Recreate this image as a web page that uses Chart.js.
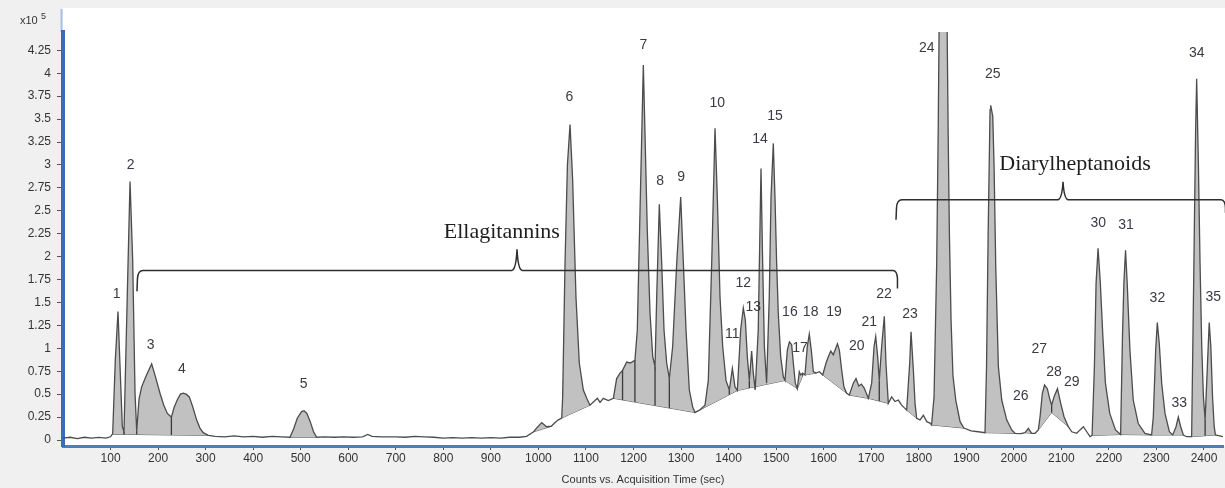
<!DOCTYPE html>
<html>
<head>
<meta charset="utf-8">
<script src="https://cdn.jsdelivr.net/npm/chart.js@4.4.1/dist/chart.umd.min.js"></script>
<style>
  html, body { margin: 0; padding: 0; background: #f0f0f0; }
  canvas { display: block; }
</style>
</head>
<body>
<canvas id="chrom" width="1225" height="488"></canvas>
<script>
// Chromatogram trace: acquisition time (s) and signal (x10^5 counts)
const traceTime = [
  0, 15, 30, 45, 60, 75, 90, 100,
  104.5, 110, 115.7, 120, 124.8, 128.3, 135.3, 141, 146.6, 151.5, 155,
  160, 165.5, 175, 186.5, 195, 204, 212, 219.5, 228, 234, 240.5, 247, 253, 259, 265.7, 273, 281, 288, 295, 305.7,
  320, 340, 360, 380, 400, 420, 440, 460, 477.5,
  485, 493, 502, 507, 513, 520, 527, 533.6,
  550, 570, 590, 610, 630, 641, 650, 670, 700, 720, 740, 760, 780, 800, 820, 840, 860, 880, 900, 920, 940, 960, 975,
  990, 996, 1007, 1017, 1027, 1035, 1042, 1049,
  1051, 1056, 1061, 1066.5, 1072, 1079, 1086, 1094.5, 1101.6, 1108.5,
  1119, 1124, 1129.6, 1136.5, 1147,
  1157.6, 1164.6, 1171.6, 1177, 1185.7, 1192.7, 1203, 1208, 1213.6, 1220.7, 1224, 1229, 1234.8, 1240.5, 1245.3, 1248.8, 1254.3, 1259.3, 1264.2, 1269.8, 1275.4, 1282.4, 1290.9, 1299.3, 1304.9, 1310.5, 1317.4, 1324.5, 1329.4,
  1340, 1350.4, 1357.4, 1364.5, 1371.5, 1376.3, 1382, 1387.6, 1394.6, 1401.6, 1408, 1413.5, 1418.4,
  1425.4, 1431, 1435.2, 1439.4, 1443.7, 1448.5, 1452, 1456, 1462.4, 1468.2, 1471.7, 1475.3, 1480, 1485.6, 1489.3, 1494.1, 1497.6, 1501.1, 1504.6, 1509.6, 1515.2, 1518.7,
  1523.6, 1528, 1532.7, 1536.2, 1540.4, 1544.6, 1548.8, 1551.6, 1555.8, 1560.7, 1565.6, 1569.8, 1574, 1578.3, 1584, 1591, 1598,
  1605, 1610, 1615, 1620.3, 1629, 1633, 1638, 1642.6, 1648.5, 1654, 1662.4, 1668, 1673.8, 1679.3, 1685, 1694, 1701, 1706, 1709.5, 1713.6, 1717, 1722, 1727.6, 1731, 1736,
  1743, 1750, 1757, 1764, 1771, 1774.6, 1781, 1783.8, 1788.7, 1792.2, 1795.7, 1802.7, 1809.7, 1816.8, 1823.7, 1827, 1832.2, 1837.8, 1841, 1843, 1852, 1859.5, 1862, 1864.5, 1868, 1872, 1878, 1887, 1895, 1910, 1925,
  1939.4, 1942.6, 1946, 1950, 1951.4, 1955.7, 1958.5, 1962, 1967.5, 1974.6, 1985, 1995.6, 2002.5, 2015, 2023.6, 2030.6, 2037.6, 2044.6, 2051.5, 2055.2, 2060, 2064.6, 2070.5, 2076.1, 2079.6, 2084.5, 2091.8, 2098.6, 2105.6, 2114.7, 2121.8, 2132.3, 2139.3, 2146.3, 2153.4, 2160.3,
  2164.6, 2169.5, 2173, 2177.2, 2182, 2187, 2192.7, 2201.8, 2213.8, 2224.6, 2228.7, 2231.5, 2235, 2238.5, 2244.2, 2251.2, 2261.7, 2275.8, 2289.8, 2293.4, 2298.4, 2301.8, 2306, 2311, 2318, 2327.2, 2334.2, 2341.2, 2346, 2351, 2356.6, 2363.5,
  2374, 2378.8, 2382.4, 2384.6, 2388.2, 2391.7, 2395.3, 2398.8, 2402.4, 2405.9, 2411, 2414.4, 2418, 2421.5, 2424, 2440
];
const traceSignal = [
  0.02, 0.03, 0.015, 0.03, 0.02, 0.028, 0.02, 0.035,
  0.07, 0.87, 1.40, 0.80, 0.145, 0.09, 1.6, 2.82, 1.96, 0.51, 0.10,
  0.45, 0.58, 0.70, 0.83, 0.68, 0.51, 0.38, 0.29, 0.25, 0.36, 0.44, 0.50, 0.51, 0.50, 0.47, 0.36, 0.22, 0.13, 0.08, 0.05,
  0.04, 0.035, 0.045, 0.035, 0.04, 0.03, 0.04, 0.035, 0.03,
  0.12, 0.24, 0.31, 0.32, 0.29, 0.20, 0.09, 0.03,
  0.035, 0.03, 0.035, 0.03, 0.035, 0.06, 0.04, 0.035, 0.035, 0.03, 0.04, 0.035, 0.03, 0.02, 0.025, 0.02, 0.025, 0.02, 0.025, 0.02, 0.03, 0.03, 0.04,
  0.09, 0.13, 0.19, 0.145, 0.15, 0.19, 0.22, 0.24,
  0.47, 1.93, 3.0, 3.44, 2.84, 1.56, 0.84, 0.545, 0.455, 0.38,
  0.43, 0.455, 0.41, 0.455, 0.43,
  0.455, 0.67, 0.73, 0.76, 0.85, 0.84, 0.87, 1.2, 2.47, 4.09, 3.38, 2.29, 1.38, 0.91, 0.80, 1.56, 2.57, 1.93, 1.2, 0.84, 0.67, 1.02, 1.93, 2.65, 1.93, 1.2, 0.545, 0.36, 0.30,
  0.33, 0.38, 0.65, 1.93, 3.40, 2.65, 1.56, 1.02, 0.65, 0.545, 0.78, 0.58, 0.54,
  1.2, 1.44, 1.31, 0.91, 0.65, 0.97, 0.73, 0.55, 1.2, 2.96, 1.93, 1.02, 0.62, 1.56, 2.65, 3.235, 2.65, 1.93, 1.38, 0.91, 0.69, 0.65,
  0.98, 1.07, 1.04, 0.84, 0.62, 0.56, 0.745, 0.71, 0.73, 0.71, 1.02, 1.156, 0.98, 0.745, 0.73, 0.745, 0.71,
  0.84, 0.91, 0.97, 0.93, 1.05, 0.98, 0.76, 0.58, 0.51, 0.49, 0.62, 0.67, 0.59, 0.61, 0.57, 0.455, 0.62, 1.02, 1.13, 0.91, 0.65, 1.02, 1.35, 0.84, 0.40,
  0.47, 0.42, 0.436, 0.38, 0.345, 0.327, 0.84, 1.18, 0.76, 0.40, 0.237, 0.22, 0.27, 0.20, 0.185, 0.164, 0.47, 1.93, 3.4, 4.6, 6.0, 4.6, 3.3, 2.25, 1.3, 0.7, 0.43, 0.2, 0.13, 0.10, 0.09,
  0.08, 0.80, 2.25, 3.6, 3.65, 3.53, 2.98, 1.89, 0.80, 0.436, 0.22, 0.11, 0.073, 0.07, 0.08, 0.127, 0.073, 0.073, 0.11, 0.254, 0.51, 0.60, 0.56, 0.436, 0.38, 0.47, 0.56, 0.40, 0.254, 0.145, 0.09, 0.073, 0.11, 0.145, 0.09, 0.036,
  0.05, 0.80, 1.71, 2.09, 1.71, 1.16, 0.62, 0.29, 0.11, 0.06, 1.16, 1.71, 2.07, 1.71, 0.98, 0.436, 0.18, 0.073, 0.055, 0.254, 0.98, 1.28, 1.05, 0.62, 0.29, 0.09, 0.055, 0.145, 0.25, 0.145, 0.055, 0.036,
  0.036, 1.93, 3.38, 3.94, 3.02, 1.93, 1.02, 0.47, 0.22, 0.65, 1.28, 1.02, 0.47, 0.145, 0.055, 0.036
];

// Integration windows: start/end time, baseline level at both ends, and drop-line split times inside
const windowStart = [104.5, 155, 477.5, 990, 1049, 1157.6, 1329.4, 1418.4, 1518.7, 1544.6, 1560.7, 1598, 1654, 1694, 1774.6, 1827, 1939.4, 2023.6, 2051.5, 2079.6, 2164.6, 2224.6, 2289.8, 2334.2, 2374];
const windowEnd   = [155, 305.7, 533.6, 1027, 1108.5, 1329.4, 1418.4, 1518.7, 1544.6, 1555.8, 1584, 1648.5, 1694, 1736, 1795.7, 1895, 2002.5, 2037.6, 2079.6, 2114.7, 2224.6, 2289.8, 2334.2, 2356.6, 2424];
const baseStart   = [0.06, 0.06, 0.03, 0.09, 0.24, 0.455, 0.30, 0.54, 0.65, 0.56, 0.71, 0.71, 0.49, 0.455, 0.327, 0.164, 0.08, 0.08, 0.11, 0.30, 0.05, 0.06, 0.055, 0.055, 0.036];
const baseEnd     = [0.06, 0.05, 0.03, 0.15, 0.38, 0.30, 0.54, 0.65, 0.56, 0.70, 0.73, 0.51, 0.455, 0.40, 0.237, 0.13, 0.073, 0.073, 0.30, 0.145, 0.06, 0.055, 0.055, 0.055, 0.055];
const windowSplits = [[128.3], [228], [], [], [], [1177, 1203, 1245.3, 1275.4], [1401.6], [1443.7, 1456, 1480], [], [], [], [], [], [1717], [], [], [], [], [], [], [], [], [], [], [2402.4]];

// Peak numbers and their anchor (time, level)
const peakNames = ['1','2','3','4','5','6','7','8','9','10','11','12','13','14','15','16','17','18','19','20','21','22','23','24','25','26','27','28','29','30','31','32','33','34','35'];
const peakLabelTime  = [113, 142.4, 184.4, 250.3, 506.2, 1065, 1220.7, 1255.8, 1300, 1376.3, 1408, 1431, 1452, 1466, 1497.7, 1529, 1550.3, 1572.6, 1621.8, 1669.5, 1696, 1727, 1781.7, 1816.7, 1955.6, 2014.5, 2053.6, 2084.5, 2121.8, 2177.8, 2236, 2302, 2348, 2384.7, 2419.7];
const peakLabelLevel = [1.59, 3.0, 1.03, 0.774, 0.61, 3.74, 4.31, 2.82, 2.87, 3.67, 1.156, 1.71, 1.447, 3.28, 3.53, 1.40, 1.0, 1.39, 1.40, 1.025, 1.29, 1.59, 1.374, 4.27, 3.99, 0.48, 0.99, 0.745, 0.636, 2.37, 2.345, 1.55, 0.40, 4.217, 1.563];

// Compound classes: bracket span, centre point, level, and caption anchor
const classNames = ['Ellagitannins', 'Diarylheptanoids'];
const classFrom = [164, 1760.6];
const classTo = [1750, 2440];
const classCentre = [955, 2103.5];
const classLevel = [1.85, 2.62];
const classTextTime = [923, 2128.7];
const classTextLevel = [2.2, 2.94];

// Axis ticks
const xTicks = [100, 200, 300, 400, 500, 600, 700, 800, 900, 1000, 1100, 1200, 1300, 1400, 1500, 1600, 1700, 1800, 1900, 2000, 2100, 2200, 2300, 2400];
const yTicks = [0, 0.25, 0.5, 0.75, 1, 1.25, 1.5, 1.75, 2, 2.25, 2.5, 2.75, 3, 3.25, 3.5, 3.75, 4, 4.25];

Chart.defaults.font.family = '"Liberation Sans", Arial, sans-serif';

const trace = traceTime.map((t, i) => ({ x: t, y: traceSignal[i] }));
const signalAt = t => traceSignal[traceTime.indexOf(t)];

const datasets = [];
datasets.push({
  data: trace, borderColor: '#4c4c4c', borderWidth: 1.3,
  pointRadius: 0, fill: false, tension: 0
});

// vertical drop lines between integrated peaks
const drops = [];
windowStart.forEach((t0, k) => {
  const t1 = windowEnd[k], b0 = baseStart[k], b1 = baseEnd[k];
  [t0, ...windowSplits[k], t1].forEach(t => {
    const b = b0 + (b1 - b0) * (t - t0) / (t1 - t0);
    const s = signalAt(t);
    if (Math.abs(s - b) > 0.015) drops.push({ x: t, y: b }, { x: t, y: s }, { x: t, y: null });
  });
});
datasets.push({
  data: drops, borderColor: '#3a3a3a', borderWidth: 1.3,
  pointRadius: 0, fill: false, spanGaps: false
});

// shaded peak areas above their baselines
windowStart.forEach((t0, k) => {
  const t1 = windowEnd[k];
  const baseIndex = datasets.length + 1;
  datasets.push({
    data: trace.filter(p => p.x >= t0 && p.x <= t1),
    borderColor: 'rgba(0,0,0,0)', borderWidth: 0, pointRadius: 0,
    fill: { target: baseIndex, above: '#c1c1c1', below: '#c1c1c1' }
  });
  datasets.push({
    data: [{ x: t0, y: baseStart[k] }, { x: t1, y: baseEnd[k] }],
    borderColor: '#585858', borderWidth: 1, pointRadius: 0, fill: false
  });
});

const paper = {
  id: 'paper',
  beforeDraw(chart) {
    const { ctx, chartArea: a, width, height } = chart;
    ctx.save();
    ctx.fillStyle = '#f0f0f0';
    ctx.fillRect(0, 0, width, height);
    ctx.fillStyle = '#ffffff';
    ctx.fillRect(a.left, 8, width - a.left, a.bottom - 8);
    ctx.strokeStyle = '#a8c0e6';
    ctx.lineWidth = 2;
    ctx.beginPath();
    ctx.moveTo(a.left - 1.5, 9);
    ctx.lineTo(a.left - 1.5, a.top);
    ctx.stroke();
    ctx.fillStyle = '#333';
    ctx.textAlign = 'left';
    ctx.textBaseline = 'alphabetic';
    ctx.font = '11px "Liberation Sans", Arial, sans-serif';
    ctx.fillText('x10', 20, 24);
    ctx.font = '9px "Liberation Sans", Arial, sans-serif';
    ctx.fillText('5', 41, 19);
    ctx.restore();
  }
};

function bracket(ctx, xs, xe, xm, y, hookL, hookR, tip) {
  ctx.beginPath();
  ctx.moveTo(xs - 4, y + hookL);
  ctx.lineTo(xs - 3.5, y + 8);
  ctx.quadraticCurveTo(xs - 3, y, xs + 2, y);
  ctx.lineTo(xm - 5, y);
  ctx.quadraticCurveTo(xm - 1, y - 1, xm, y - tip);
  ctx.quadraticCurveTo(xm + 1, y - 1, xm + 5, y);
  ctx.lineTo(xe - 2, y);
  ctx.quadraticCurveTo(xe + 2, y, xe + 2.5, y + 8);
  ctx.lineTo(xe + 2.5, y + hookR);
  ctx.stroke();
}

const notes = {
  id: 'notes',
  afterDatasetsDraw(chart) {
    const { ctx } = chart;
    const xs = chart.scales.x, ys = chart.scales.y;
    ctx.save();
    ctx.strokeStyle = '#2e2e2e';
    ctx.lineWidth = 1.5;
    const hooks = [[21, 18, 21], [20, 13, 18]];
    classNames.forEach((name, i) => {
      bracket(ctx,
        xs.getPixelForValue(classFrom[i]), xs.getPixelForValue(classTo[i]),
        xs.getPixelForValue(classCentre[i]), ys.getPixelForValue(classLevel[i]),
        hooks[i][0], hooks[i][1], hooks[i][2]);
      ctx.fillStyle = '#1e1e1e';
      ctx.font = '22px "Liberation Serif", "Times New Roman", serif';
      ctx.textAlign = 'center';
      ctx.textBaseline = 'alphabetic';
      ctx.fillText(name, xs.getPixelForValue(classTextTime[i]), ys.getPixelForValue(classTextLevel[i]));
    });
    ctx.fillStyle = '#3c3944';
    ctx.font = '14px "Liberation Sans", Arial, sans-serif';
    ctx.textAlign = 'center';
    ctx.textBaseline = 'middle';
    peakNames.forEach((n, i) => {
      ctx.fillText(n, xs.getPixelForValue(peakLabelTime[i]), ys.getPixelForValue(peakLabelLevel[i]));
    });
    ctx.restore();
  }
};

new Chart(document.getElementById('chrom'), {
  type: 'line',
  data: { datasets },
  options: {
    responsive: false,
    animation: false,
    events: [],
    devicePixelRatio: 1,
    layout: { padding: { left: 0, right: 2, top: 32, bottom: 0 } },
    elements: { point: { radius: 0 }, line: { tension: 0 } },
    plugins: {
      legend: { display: false },
      tooltip: { enabled: false },
      filler: { propagate: false }
    },
    scales: {
      x: {
        type: 'linear',
        min: 0, max: 2440,
        afterFit: s => { s.height = 42; },
        afterBuildTicks: s => { s.ticks = xTicks.map(v => ({ value: v })); },
        border: { display: true, color: '#4a7cc9', width: 3 },
        grid: { display: true, drawOnChartArea: false, drawTicks: true, tickLength: 4, tickColor: '#555' },
        ticks: {
          autoSkip: false, maxRotation: 0, padding: 1,
          color: '#333', font: { size: 12 },
          callback: v => String(v)
        },
        title: {
          display: true, text: 'Counts vs. Acquisition Time (sec)',
          color: '#333', font: { size: 11 }, padding: { top: 0, bottom: 1.4 }
        }
      },
      y: {
        type: 'linear',
        min: -0.0654, max: 4.45,
        afterFit: s => { s.width = 63; },
        afterBuildTicks: s => { s.ticks = yTicks.map(v => ({ value: v })); },
        border: { display: true, color: '#3b6bbf', width: 4 },
        grid: { display: true, drawOnChartArea: false, drawTicks: true, tickLength: 6, tickColor: '#555' },
        ticks: {
          autoSkip: false, padding: 6,
          color: '#333', font: { size: 12 },
          callback: v => String(Math.round(v * 100) / 100)
        }
      }
    }
  },
  plugins: [paper, notes]
});
</script>
</body>
</html>
